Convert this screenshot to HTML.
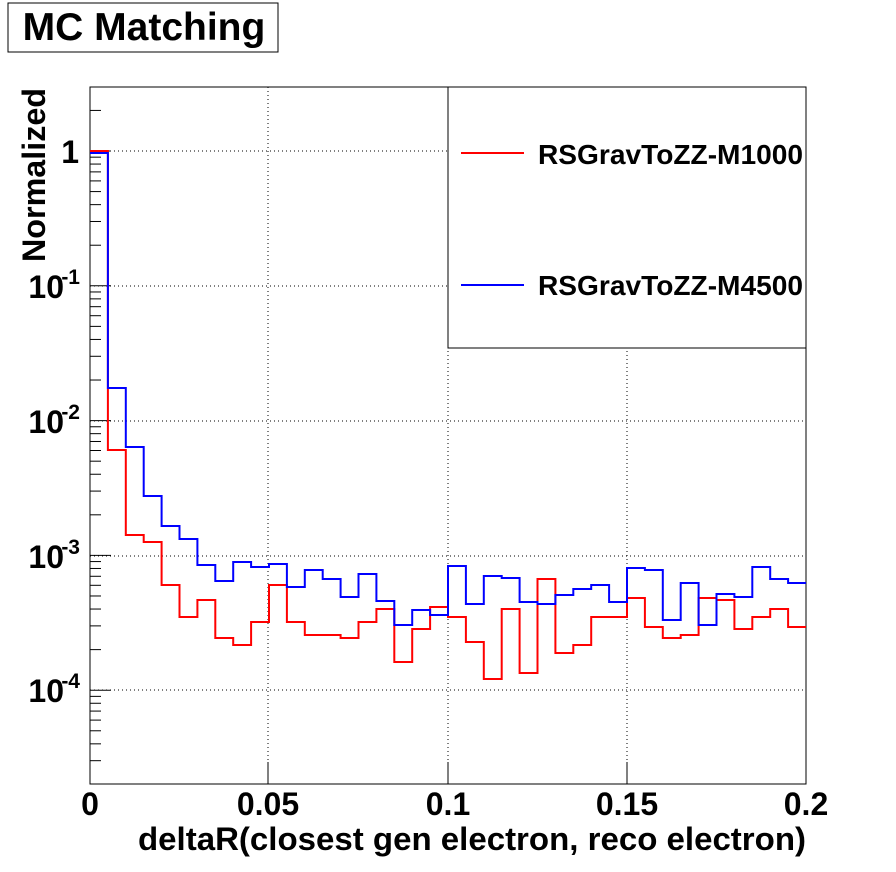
<!DOCTYPE html>
<html><head><style>body{margin:0;background:#fff}svg{display:block}text{font-family:"Liberation Sans",Arial,sans-serif;font-weight:bold}</style></head><body>
<svg width="896" height="872" xmlns="http://www.w3.org/2000/svg">
<rect x="8" y="3" width="270" height="49" fill="#fff" stroke="#000" stroke-width="1"/>
<text x="144" y="40" font-size="39" text-anchor="middle">MC Matching</text>
<g stroke="#000" stroke-dasharray="1,3" stroke-width="1">
<line x1="268" y1="87" x2="268" y2="784"/><line x1="448" y1="87" x2="448" y2="784"/><line x1="627" y1="87" x2="627" y2="784"/>
<line x1="90" y1="151" x2="806" y2="151"/><line x1="90" y1="286" x2="806" y2="286"/><line x1="90" y1="421" x2="806" y2="421"/><line x1="90" y1="556" x2="806" y2="556"/><line x1="90" y1="690" x2="806" y2="690"/>
</g>
<rect x="90" y="87" width="716" height="697" fill="none" stroke="#000" stroke-width="1"/>
<g id="ticks" stroke="#000" stroke-width="1"></g>
<path id="red" fill="none" stroke="#f00" stroke-width="2"/>
<path id="blue" fill="none" stroke="#00f" stroke-width="2"/>
<rect x="448" y="87" width="358" height="261" fill="#fff" stroke="#000" stroke-width="1"/>
<line x1="461" y1="153" x2="524" y2="153" stroke="#f00" stroke-width="2"/>
<text x="538" y="164" font-size="28" textLength="265" lengthAdjust="spacingAndGlyphs">RSGravToZZ-M1000</text>
<line x1="461" y1="285" x2="524" y2="285" stroke="#00f" stroke-width="2"/>
<text x="538" y="295" font-size="28" textLength="265" lengthAdjust="spacingAndGlyphs">RSGravToZZ-M4500</text>
<g font-size="32" text-anchor="middle">
<text x="90" y="815">0</text><text x="268" y="815">0.05</text><text x="448" y="815">0.1</text><text x="627" y="815">0.15</text><text x="806" y="815">0.2</text>
</g>
<text x="806" y="850" font-size="32" text-anchor="end" textLength="668" lengthAdjust="spacingAndGlyphs">deltaR(closest gen electron, reco electron)</text>
<text transform="translate(45,262) rotate(-90)" font-size="32" textLength="174" lengthAdjust="spacingAndGlyphs">Normalized</text>
<g font-size="32" text-anchor="end">
<text x="79" y="163">1</text>
<text x="64" y="298">10</text><text x="80" y="284" font-size="21">-1</text>
<text x="64" y="433">10</text><text x="80" y="419" font-size="21">-2</text>
<text x="64" y="568">10</text><text x="80" y="554" font-size="21">-3</text>
<text x="64" y="702">10</text><text x="80" y="688" font-size="21">-4</text>
</g>
</svg>
<script>
var r=[151,450,535,542,585,617,600,638,645,622,585,622,635,635,638,622,609,662,629,607,617,642,679,609,673,579,653,645,617,617,598,627,638,635,598,600,629,617,609,627];
var b=[153,388,447,496,526,539,565,581,562,567,564,587,570,579,597,574,601,625,610,615,566,604,576,578,602,604,595,589,585,602,568,570,620,583,625,594,597,567,579,583];
function p(a){var d="";for(var i=0;i<a.length;i++){var x0=90+i*17.9,x1=x0+17.9;d+=(i?" L":"M")+x0.toFixed(1)+","+a[i]+" L"+x1.toFixed(1)+","+a[i];}return d;}
document.getElementById('red').setAttribute('d',p(r));
document.getElementById('blue').setAttribute('d',p(b));
var g=document.getElementById('ticks'),s='';
var D=134.8,y1=151;
for(var e=-5;e<=1;e++){for(var m=1;m<10;m++){var y=y1-(e+Math.log10(m))*D;if(y<87||y>784)continue;var L=m==1?21:11;s+='<line x1="90" y1="'+y+'" x2="'+(90+L)+'" y2="'+y+'"/>';}}
for(var i=1;i<4;i++){var x=[268,448,627][i-1];s+='<line x1="'+x+'" y1="784" x2="'+x+'" y2="762"/>';}
g.innerHTML=s;
</script>
</body></html>
